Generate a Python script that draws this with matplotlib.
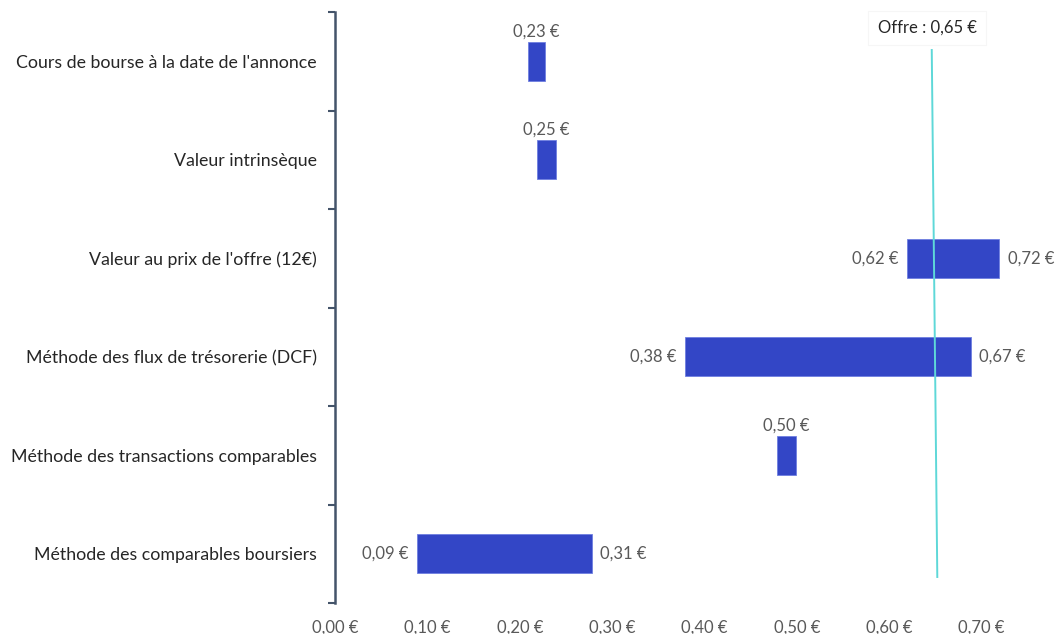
import matplotlib.pyplot as plt

plt.rcParams['font.family'] = ['Lato', 'DejaVu Sans']

categories = ["Cours de bourse à la date de l'annonce",
              "Valeur intrinsèque",
              "Valeur au prix de l'offre (12€)",
              "Méthode des flux de trésorerie (DCF)",
              "Méthode des transactions comparables",
              "Méthode des comparables boursiers"]
# bar ends as drawn in the picture
bar_low = [0.209, 0.219, 0.619, 0.379, 0.479, 0.089]
bar_high = [0.227, 0.239, 0.719, 0.688, 0.499, 0.278]
# printed labels (None = single value shown above the bar)
label_low = [None, None, 0.62, 0.38, None, 0.09]
label_high = [0.23, 0.25, 0.72, 0.67, 0.50, 0.31]
offer = 0.65
offer_line_x = [0.646, 0.652]
xticks = [0.0, 0.1, 0.2, 0.3, 0.4, 0.5, 0.6, 0.7]


def eur(v):
    return '{:.2f} €'.format(v).replace('.', ',')


fig = plt.figure(figsize=(10.61, 6.34), dpi=100)
ax = fig.add_axes([335 / 1061, 1 - 603 / 634, (1050 - 335) / 1061, 591 / 634])

bar_col = '#3346C6'
txt_col = '#595959'
ypos = list(range(len(categories)))
widths = [h - l for l, h in zip(bar_low, bar_high)]
ax.barh(ypos, widths, left=bar_low, height=0.4, color=bar_col,
        edgecolor='#6f7fe0', linewidth=0.6, zorder=2)

for y, lo, hi, llo, lhi in zip(ypos, bar_low, bar_high, label_low, label_high):
    if llo is None:
        ax.annotate(eur(lhi), ((lo + hi) / 2, y - 0.2), xytext=(0, 1.5),
                    textcoords='offset points', ha='center', va='bottom',
                    fontsize=12, color=txt_col)
    else:
        ax.annotate(eur(llo), (lo, y), xytext=(-6, 0), textcoords='offset points',
                    ha='right', va='center', fontsize=12, color=txt_col)
        ax.annotate(eur(lhi), (hi, y), xytext=(6, 0), textcoords='offset points',
                    ha='left', va='center', fontsize=12, color=txt_col)

# offer line
ax.plot(offer_line_x, [-0.114, 5.236], color='#5ED8D8', lw=1.4, zorder=3)
ax.text(0.641, -0.34, 'Offre : ' + eur(offer), ha='center', va='center',
        fontsize=12, color='#262626',
        bbox=dict(boxstyle='square,pad=0.55', fc='white', ec='#f6f6f6', lw=0.8))

ax.set_xlim(0, 0.774)
ax.set_ylim(5.5, -0.5)
ax.set_xticks(xticks)
ax.set_xticklabels([eur(v) for v in xticks], fontsize=12, color=txt_col)
ax.tick_params(axis='x', length=0, pad=12)

bounds = [i - 0.5 for i in range(len(categories) + 1)]
ax.set_yticks(bounds)
ax.set_yticklabels([])
ax.set_yticks(ypos, minor=True)
ax.set_yticklabels(categories, minor=True, fontsize=12.8, color='#262626')
ax.tick_params(axis='y', which='major', length=5, width=1.5, color='#44546A')
ax.tick_params(axis='y', which='minor', length=0, pad=13)

for s in ['top', 'right', 'bottom']:
    ax.spines[s].set_visible(False)
ax.spines['left'].set_color('#44546A')
ax.spines['left'].set_linewidth(1.8)

fig.savefig('out.png', dpi=100)
